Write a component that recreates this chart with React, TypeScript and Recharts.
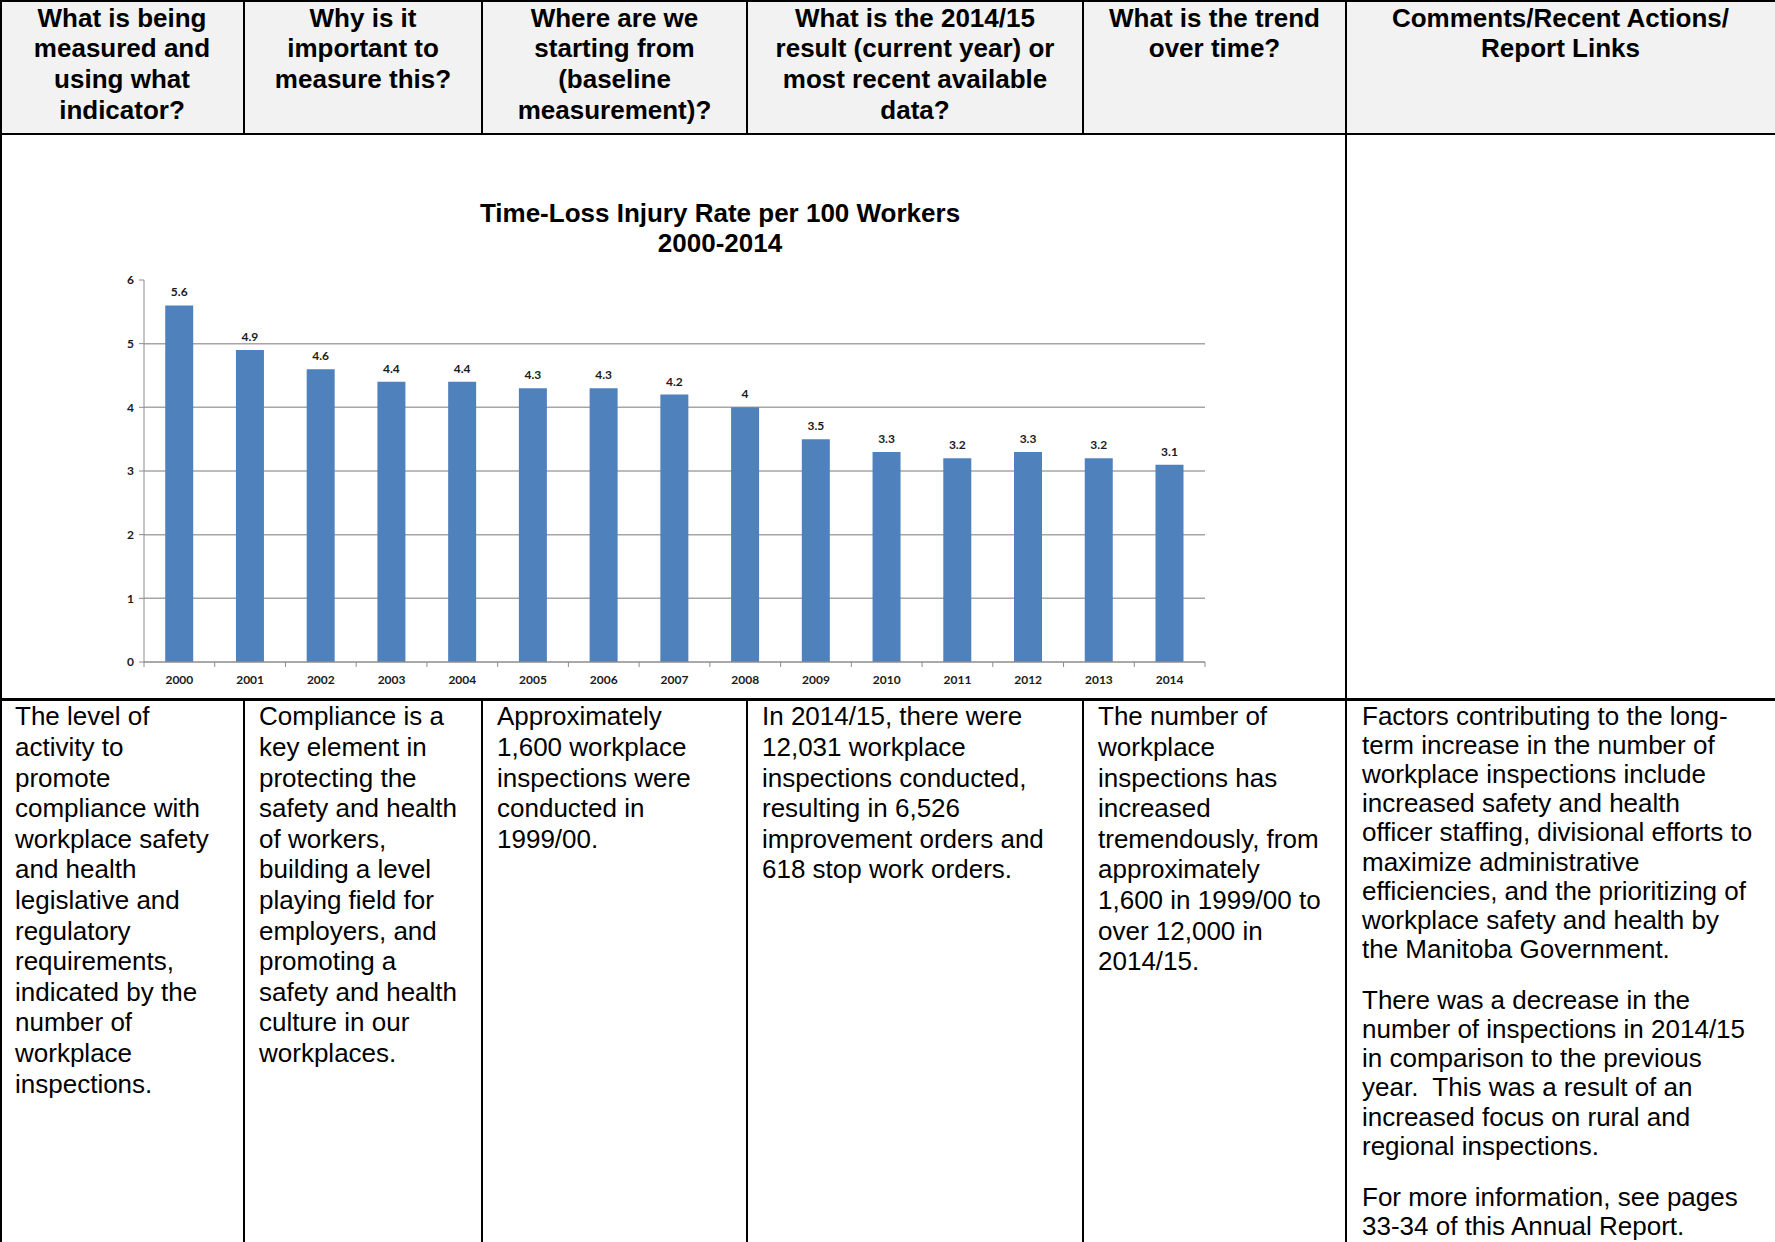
import React from 'react';
import { BarChart, Bar, XAxis, YAxis, CartesianGrid, LabelList } from 'recharts';

const years = ['2000', '2001', '2002', '2003', '2004', '2005', '2006', '2007', '2008', '2009', '2010', '2011', '2012', '2013', '2014'];
const rates = [5.6, 4.9, 4.6, 4.4, 4.4, 4.3, 4.3, 4.2, 4.0, 3.5, 3.3, 3.2, 3.3, 3.2, 3.1];
const yTicks = [0, 1, 2, 3, 4, 5, 6];
const gridValues = [1, 2, 3, 4, 5];
const chartTitle = ['Time-Loss Injury Rate per 100 Workers', '2000-2014'];

const headerLines = [
  ['What is being', 'measured and', 'using what', 'indicator?'],
  ['Why is it', 'important to', 'measure this?'],
  ['Where are we', 'starting from', '(baseline', 'measurement)?'],
  ['What is the 2014/15', 'result (current year) or', 'most recent available', 'data?'],
  ['What is the trend', 'over time?'],
  ['Comments/Recent Actions/', 'Report Links'],
];

const bodyLines = [
  ['The level of', 'activity to', 'promote', 'compliance with', 'workplace safety', 'and health', 'legislative and', 'regulatory', 'requirements,', 'indicated by the', 'number of', 'workplace', 'inspections.'],
  ['Compliance is a', 'key element in', 'protecting the', 'safety and health', 'of workers,', 'building a level', 'playing field for', 'employers, and', 'promoting a', 'safety and health', 'culture in our', 'workplaces.'],
  ['Approximately', '1,600 workplace', 'inspections were', 'conducted in', '1999/00.'],
  ['In 2014/15, there were', '12,031 workplace', 'inspections conducted,', 'resulting in 6,526', 'improvement orders and', '618 stop work orders.'],
  ['The number of', 'workplace', 'inspections has', 'increased', 'tremendously, from', 'approximately', '1,600 in 1999/00 to', 'over 12,000 in', '2014/15.'],
];

const commentParagraphs = [
  ['Factors contributing to the long-', 'term increase in the number of', 'workplace inspections include', 'increased safety and health', 'officer staffing, divisional efforts to', 'maximize administrative', 'efficiencies, and the prioritizing of', 'workplace safety and health by', 'the Manitoba Government.'],
  ['There was a decrease in the', 'number of inspections in 2014/15', 'in comparison to the previous', 'year.  This was a result of an', 'increased focus on rural and', 'regional inspections.'],
  ['For more information, see pages', '33-34 of this Annual Report.'],
];

const data = years.map((y, i) => ({ year: y, rate: rates[i] }));

// layout constants
const W = 1775;
const H = 1242;
const colEdges = [0, 244, 482, 747, 1083, 1346, 1775];
const headerBottom = 134;
const chartRowBottom = 699;
const FONT = '"Liberation Sans", Arial, sans-serif';
const SMALL_FONT = 'Lato, "Open Sans", sans-serif';

const CH_LEFT = 0;
const CH_TOP = 250;
const CH_W = 1260;
const CH_H = 442;
const M = { top: 30, right: 55, left: 104, bottom: 0 };
const YAXIS_W = 40;
const plotW = CH_W - M.left - M.right - YAXIS_W;
const band = plotW / years.length;

const XTick = (props: any) => {
  const { x, y, payload, index } = props;
  const half = band / 2;
  return (
    <g>
      <line x1={x - half} y1={y} x2={x - half} y2={y + 5} stroke="#8c8c8c" strokeWidth={1} />
      {index === years.length - 1 && (
        <line x1={x + half} y1={y} x2={x + half} y2={y + 5} stroke="#8c8c8c" strokeWidth={1} />
      )}
      <text x={x} y={y + 22} textAnchor="middle" fontFamily={SMALL_FONT} fontWeight={700} fontSize={12} fill="#1a1a1a">
        {payload.value}
      </text>
    </g>
  );
};

const Line = ({ x, y, w, h }: { x: number; y: number; w: number; h: number }) => (
  <div style={{ position: 'absolute', left: x, top: y, width: w, height: h, background: '#000' }} />
);

export default function App() {
  const hLine = 30.6;
  const bodyStart = 716.6;
  const commentStep = 29.1;
  const commentStarts = [716.6, 1000.7, 1197.7];
  return (
    <div style={{ position: 'absolute', left: 0, top: 0, width: W, height: H, overflow: 'hidden', background: '#fff', fontFamily: FONT, color: '#000' }}>
      {/* header background */}
      <div style={{ position: 'absolute', left: 0, top: 0, width: W, height: headerBottom, background: '#f2f2f2' }} />

      {/* header text */}
      {headerLines.map((lines, ci) =>
        lines.map((t, li) => (
          <div
            key={`h${ci}-${li}`}
            style={{
              position: 'absolute',
              left: colEdges[ci],
              width: colEdges[ci + 1] - colEdges[ci],
              top: 18 + li * hLine - hLine / 2,
              height: hLine,
              lineHeight: `${hLine}px`,
              textAlign: 'center',
              fontWeight: 700,
              fontSize: 26,
              whiteSpace: 'pre',
            }}
          >
            {t}
          </div>
        ))
      )}

      {/* chart title */}
      {chartTitle.map((t, i) => (
        <div
          key={`t${i}`}
          style={{
            position: 'absolute',
            left: 420,
            width: 600,
            top: 213 + i * 30 - 15,
            height: 30,
            lineHeight: '30px',
            textAlign: 'center',
            fontWeight: 700,
            fontSize: 26,
            whiteSpace: 'pre',
          }}
        >
          {t}
        </div>
      ))}

      {/* chart */}
      <div style={{ position: 'absolute', left: CH_LEFT, top: CH_TOP }}>
        <BarChart width={CH_W} height={CH_H} data={data} margin={M} barCategoryGap="30%">
          <CartesianGrid horizontal vertical={false} horizontalValues={gridValues} stroke="#a6a6a6" strokeWidth={1.5} />
          <XAxis
            dataKey="year"
            height={30}
            axisLine={{ stroke: '#8c8c8c', strokeWidth: 1.5 }}
            tickLine={false}
            tickSize={0}
            tickMargin={0}
            interval={0}
            tick={<XTick />}
          />
          <YAxis
            width={YAXIS_W}
            domain={[0, 6]}
            ticks={yTicks}
            interval={0}
            axisLine={{ stroke: '#8c8c8c', strokeWidth: 1 }}
            tickLine={{ stroke: '#8c8c8c' }}
            tickSize={5}
            tickMargin={5}
            tick={{ fontFamily: SMALL_FONT, fontWeight: 700, fontSize: 12, fill: '#1a1a1a' }}
          />
          <Bar dataKey="rate" fill="#4f81bd" isAnimationActive={false}>
            <LabelList dataKey="rate" position="top" offset={9} style={{ fontFamily: SMALL_FONT, fontWeight: 700, fontSize: 12, fill: '#1a1a1a' }} />
          </Bar>
        </BarChart>
      </div>

      {/* body text columns 1-5 */}
      {bodyLines.map((lines, ci) =>
        lines.map((t, li) => (
          <div
            key={`b${ci}-${li}`}
            style={{
              position: 'absolute',
              left: colEdges[ci] + 15,
              top: bodyStart + li * hLine - hLine / 2,
              height: hLine,
              lineHeight: `${hLine}px`,
              fontSize: 26,
              whiteSpace: 'pre',
            }}
          >
            {t}
          </div>
        ))
      )}

      {/* comments column */}
      {commentParagraphs.map((lines, pi) =>
        lines.map((t, li) => (
          <div
            key={`c${pi}-${li}`}
            style={{
              position: 'absolute',
              left: colEdges[5] + 16,
              top: commentStarts[pi] + li * commentStep - commentStep / 2,
              height: commentStep,
              lineHeight: `${commentStep}px`,
              fontSize: 26,
              whiteSpace: 'pre',
            }}
          >
            {t}
          </div>
        ))
      )}

      {/* table borders */}
      <Line x={0} y={0} w={W} h={2} />
      <Line x={0} y={headerBottom - 1} w={W} h={2} />
      <Line x={0} y={chartRowBottom - 1} w={W} h={3} />
      <Line x={0} y={0} w={2} h={H} />
      {colEdges.slice(1, 5).map((x, i) => (
        <React.Fragment key={`v${i}`}>
          <Line x={x - 1} y={0} w={2} h={headerBottom} />
          <Line x={x - 1} y={chartRowBottom} w={2} h={H - chartRowBottom} />
        </React.Fragment>
      ))}
      <Line x={colEdges[5] - 1} y={0} w={2} h={H} />
    </div>
  );
}
